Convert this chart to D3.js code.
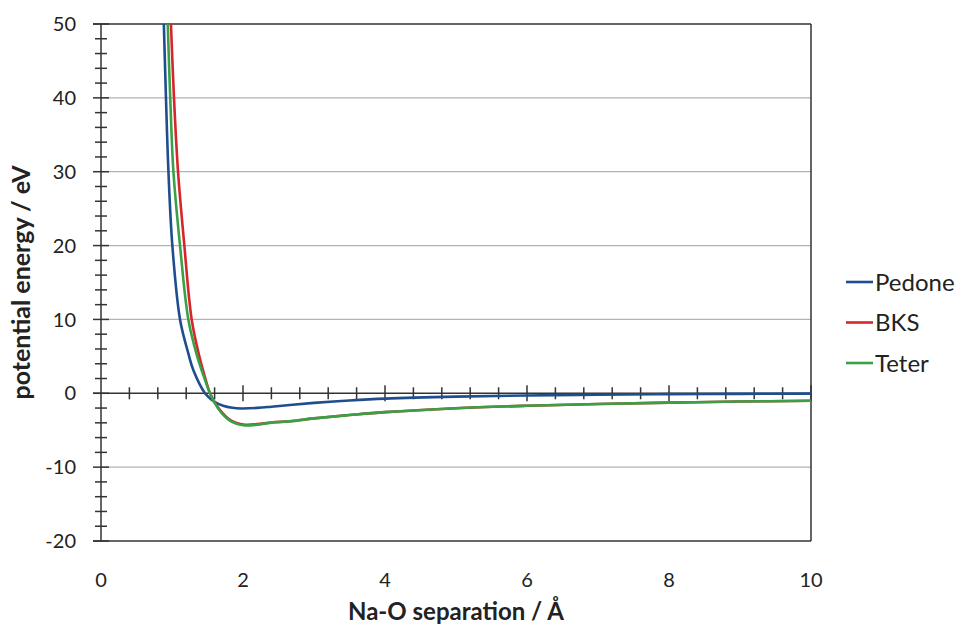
<!DOCTYPE html>
<html lang="en">
<head>
    <meta charset="UTF-8">
    <script src="https://d3js.org/d3.v7.min.js"></script>
    <title>Na-O potentials</title>
    <style>
        body { margin: 0; background: white; }
        text { font-family: Lato, "Open Sans", sans-serif; fill: #222; }
    </style>
</head>
<body>
<div id="chart"></div>
<script>
    // values (x in Å, y in eV)
    const pedoneX = [0.885, 0.915, 0.95, 1.005, 1.113, 1.23, 1.30, 1.465, 1.55, 1.6, 1.72, 1.85, 1.98, 2.2, 2.4, 2.66, 3.0, 3.5, 4.0, 5.0, 6.0, 7.0, 8.0, 9.0, 10.0];
    const pedoneY = [50, 40, 30, 20, 10, 5.4, 3.15, 0, -0.8, -1.15, -1.7, -1.97, -2.05, -1.98, -1.82, -1.58, -1.3, -0.97, -0.72, -0.45, -0.3, -0.19, -0.12, -0.08, -0.05];

    const bksX = [0.985, 1.028, 1.085, 1.174, 1.277, 1.385, 1.455, 1.535, 1.6, 1.7, 1.8, 1.9, 2.03, 2.2, 2.4, 2.66, 3.0, 3.5, 4.0, 5.0, 6.0, 7.0, 8.0, 9.0, 10.0];
    const bksY = [50, 40, 30, 20, 10, 5, 2.5, 0, -1.2, -2.55, -3.5, -4.0, -4.25, -4.18, -3.95, -3.78, -3.4, -2.95, -2.55, -2.02, -1.69, -1.45, -1.27, -1.12, -1.01];

    const teterX = [0.94, 0.975, 1.02, 1.113, 1.23, 1.355, 1.44, 1.535, 1.6, 1.7, 1.8, 1.9, 2.03, 2.2, 2.4, 2.66, 3.0, 3.5, 4.0, 5.0, 6.0, 7.0, 8.0, 9.0, 10.0];
    const teterY = [50, 40, 30, 20, 10, 5, 2.5, 0, -1.3, -2.7, -3.6, -4.1, -4.35, -4.25, -3.97, -3.8, -3.4, -2.95, -2.55, -2.02, -1.69, -1.45, -1.27, -1.12, -1.01];

    const seriesNames = ["Pedone", "BKS", "Teter"];
    const seriesColors = ["#1f4e8f", "#d7262b", "#3aa047"];
    const xTicks = [0, 2, 4, 6, 8, 10];
    const yTicks = [-20, -10, 0, 10, 20, 30, 40, 50];

    const series = [
        { name: seriesNames[0], color: seriesColors[0], pts: pedoneX.map((x, i) => [x, pedoneY[i]]) },
        { name: seriesNames[1], color: seriesColors[1], pts: bksX.map((x, i) => [x, bksY[i]]) },
        { name: seriesNames[2], color: seriesColors[2], pts: teterX.map((x, i) => [x, teterY[i]]) }
    ];

    const width = 962, height = 628;
    const margin = { left: 101, right: 151, top: 24, bottom: 87 };

    const svg = d3.select("#chart").append("svg")
        .attr("width", width)
        .attr("height", height);

    const x = d3.scaleLinear().domain([0, 10]).range([margin.left, width - margin.right]);
    const y = d3.scaleLinear().domain([-20, 50]).range([height - margin.bottom, margin.top]);

    // gridlines
    svg.append("g").selectAll("line")
        .data(yTicks.filter(t => t !== 0 && t !== -20 && t !== 50))
        .enter().append("line")
        .attr("x1", x(0)).attr("x2", x(10))
        .attr("y1", d => y(d)).attr("y2", d => y(d))
        .attr("stroke", "#b3b3b3").attr("stroke-width", 1.2);

    // plot frame: top, right, bottom
    const frame = svg.append("g").attr("stroke", "#333").attr("stroke-width", 1.5);
    frame.append("line").attr("x1", x(0) - 8).attr("x2", x(10)).attr("y1", y(50)).attr("y2", y(50));
    frame.append("line").attr("x1", x(10)).attr("x2", x(10)).attr("y1", y(50)).attr("y2", y(-20));
    frame.append("line").attr("x1", x(0) - 8).attr("x2", x(10)).attr("y1", y(-20)).attr("y2", y(-20));

    // y axis line with crossing ticks
    const yAxis = svg.append("g").attr("stroke", "#333").attr("stroke-width", 1.5);
    yAxis.append("line").attr("x1", x(0)).attr("x2", x(0)).attr("y1", y(50)).attr("y2", y(-20));
    yAxis.selectAll(".minor")
        .data(d3.range(-20, 50.01, 2))
        .enter().append("line")
        .attr("x1", d => d % 10 === 0 ? x(0) - 8 : x(0) - 6)
        .attr("x2", d => d % 10 === 0 ? x(0) + 8 : x(0) + 6)
        .attr("y1", d => y(d)).attr("y2", d => y(d));

    // x axis at y = 0 with crossing ticks
    const xAxis = svg.append("g").attr("stroke", "#333").attr("stroke-width", 1.5);
    xAxis.append("line").attr("x1", x(0) - 8).attr("x2", x(10)).attr("y1", y(0)).attr("y2", y(0));
    xAxis.selectAll(".tick")
        .data(d3.range(1, 26).map(i => i * 0.4))
        .enter().append("line")
        .attr("x1", d => x(d)).attr("x2", d => x(d))
        .attr("y1", d => Math.abs(d / 2 - Math.round(d / 2)) < 1e-6 ? y(0) - 8 : y(0) - 6)
        .attr("y2", d => Math.abs(d / 2 - Math.round(d / 2)) < 1e-6 ? y(0) + 8 : y(0) + 6);

    // tick labels
    svg.append("g").selectAll("text")
        .data(yTicks)
        .enter().append("text")
        .attr("x", 76)
        .attr("y", d => y(d))
        .attr("dy", "0.36em")
        .attr("text-anchor", "end")
        .attr("font-size", 20)
        .text(d => d);

    svg.append("g").selectAll("text")
        .data(xTicks)
        .enter().append("text")
        .attr("x", d => x(d))
        .attr("y", 587)
        .attr("text-anchor", "middle")
        .attr("font-size", 20)
        .text(d => d);

    // axis titles
    svg.append("text")
        .attr("x", x(5))
        .attr("y", 620)
        .attr("text-anchor", "middle")
        .attr("font-size", 24)
        .attr("font-weight", "bold")
        .text("Na-O separation / Å");

    svg.append("text")
        .attr("transform", `translate(30,${y(15)}) rotate(-90)`)
        .attr("text-anchor", "middle")
        .attr("font-size", 25)
        .attr("font-weight", "bold")
        .text("potential energy / eV");

    // curves
    const line = d3.line()
        .x(d => x(d[0]))
        .y(d => y(d[1]))
        .curve(d3.curveCatmullRom.alpha(0.5));

    svg.append("g").selectAll("path")
        .data(series)
        .enter().append("path")
        .attr("d", d => line(d.pts))
        .attr("fill", "none")
        .attr("stroke", d => d.color)
        .attr("stroke-width", 2.6);

    // legend
    const legend = svg.append("g").selectAll("g")
        .data(series)
        .enter().append("g")
        .attr("transform", (d, i) => `translate(846,${282 + i * 40.5})`);
    legend.append("line")
        .attr("x1", 0).attr("x2", 27)
        .attr("stroke", d => d.color)
        .attr("stroke-width", 2.6);
    legend.append("text")
        .attr("x", 29)
        .attr("dy", "0.36em")
        .attr("font-size", 24)
        .text(d => d.name);
</script>
</body>
</html>
